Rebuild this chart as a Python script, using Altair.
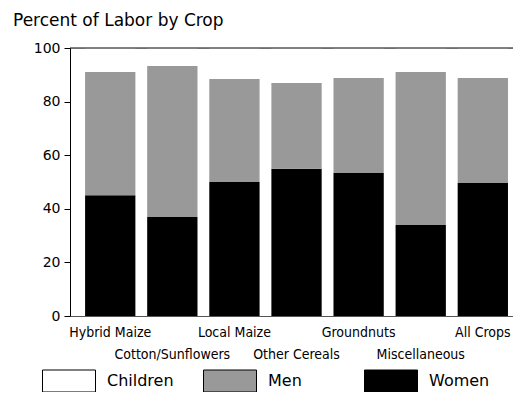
import altair as alt
import pandas as pd

crops = ["Hybrid Maize", "Cotton/Sunflowers", "Local Maize", "Other Cereals",
         "Groundnuts", "Miscellaneous", "All Crops"]
women = [45.1, 36.9, 50.0, 54.9, 53.4, 34.0, 49.6]
men = [45.9, 56.4, 38.4, 32.0, 35.4, 57.0, 39.2]
children = [9.0, 6.7, 11.6, 13.1, 11.2, 9.0, 11.2]

groups = ["Children", "Men", "Women"]
group_colors = ["#ffffff", "#999999", "#000000"]
stack_rank = {"Women": 0, "Men": 1, "Children": 2}

rows = []
for i, c in enumerate(crops):
    for g, vals in (("Women", women), ("Men", men), ("Children", children)):
        rows.append({"crop": c, "group": g, "value": vals[i], "rank": stack_rank[g]})
df = pd.DataFrame(rows)

second_row = "indexof(['Cotton/Sunflowers','Other Cereals','Miscellaneous'], datum.label) >= 0 ? ['', datum.label] : datum.label"

bars = alt.Chart(df).mark_bar(strokeWidth=0).encode(
    x=alt.X("crop:N", sort=crops, title=None,
            scale=alt.Scale(paddingInner=0.19, paddingOuter=0.162, align=0.75),
            axis=alt.Axis(labelAngle=0, ticks=False, labelExpr=second_row,
                          labelFont="DejaVu Sans Condensed", labelFontSize=14,
                          labelColor="black", labelPadding=9, labelLineHeight=22,
                          domainColor="#555555", domainWidth=1, labelOverlap=False,
                          labelLimit=0)),
    y=alt.Y("value:Q", stack="zero", title=None,
            scale=alt.Scale(domain=[0, 100], nice=False),
            axis=alt.Axis(values=[0, 20, 40, 60, 80, 100], grid=False,
                          labelFont="DejaVu Sans", labelFontSize=14, labelColor="black",
                          tickColor="black", tickSize=6, labelPadding=4,
                          domainColor="black", domainWidth=1)),
    color=alt.Color("group:N", scale=alt.Scale(domain=groups, range=group_colors),
                    legend=alt.Legend(title=None, orient="none", legendX=-28, legendY=306,
                                      direction="horizontal", columns=3, gridAlign="all",
                                      columnPadding=27, symbolType="M-1,-0.415H1V0.415H-1Z",
                                      symbolSize=2809, symbolStrokeColor="black",
                                      symbolStrokeWidth=1, symbolOpacity=1,
                                      labelFont="DejaVu Sans", labelFontSize=16,
                                      labelColor="black", labelOffset=11, padding=0)),
    order=alt.Order("rank:Q", sort="ascending"),
)

top_line = alt.Chart(pd.DataFrame({"v": [100]})).mark_rule(color="black", strokeWidth=1).encode(
    y=alt.Y("v:Q")
)

chart = alt.layer(bars, top_line).properties(
    width=443, height=268,
    title=alt.TitleParams("Percent of Labor by Crop", anchor="start", frame="group", dx=-57,
                          offset=11,
                          font="DejaVu Sans", fontSize=17, fontWeight="normal", color="black"),
    padding={"left": 62, "top": 40, "right": 0, "bottom": 76},
    autosize=alt.AutoSizeParams(type="none"),
).configure_view(stroke=None).configure(background="white")

chart.save("out.html", embed_options={"renderer": "svg", "actions": False})
